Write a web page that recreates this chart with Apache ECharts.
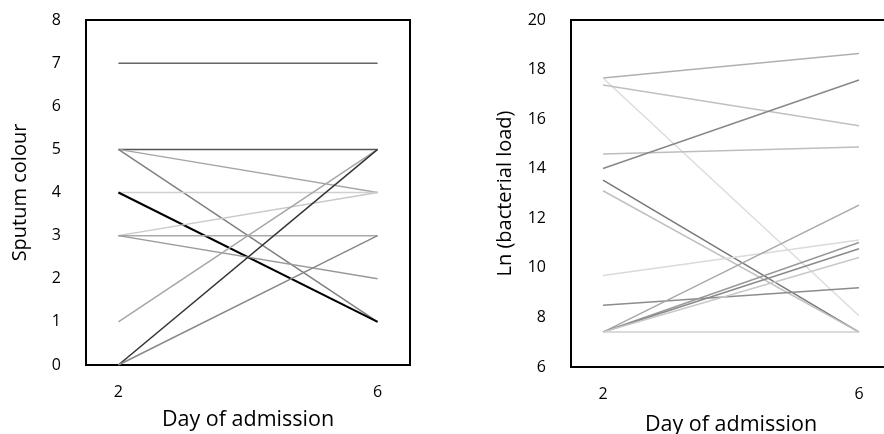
<!doctype html>
<html>
    <head>
        <meta charset="utf-8">
        <title>Sputum colour and bacterial load</title>
        <style>
            html, body { margin: 0; padding: 0; background: #fff; }
            #main { width: 884px; height: 434px; }
        </style>
    </head>
    <body>
        <div id="main"></div>
        <script src="https://cdn.jsdelivr.net/npm/echarts@6/dist/echarts.min.js"></script>
        <script>
            var chart = echarts.init(document.getElementById('main'));

            // admission days shown on both panels
            var days = [2, 6];

            // left panel: sputum colour, one patient per entry
            var sputumDay2 = [7, 5, 5, 5, 4, 4, 3, 3, 3, 1, 0, 0];
            var sputumDay6 = [7, 5, 4, 1, 4, 1, 4, 3, 2, 5, 5, 3];

            // right panel: ln(bacterial load)
            var loadDay2 = [17.66, 17.66, 17.38, 14.59, 14.01, 13.54, 13.11, 9.69, 8.49, 7.41, 7.41, 7.41, 7.41, 7.41];
            var loadDay6 = [18.65, 8.07, 15.73, 14.88, 17.58, 7.41, 7.41, 11.12, 9.2, 12.53, 11.02, 10.77, 10.42, 7.41];

            // grey shades per line
            var sputumColors = ['#666', '#555', '#a6a6a6', '#7f7f7f', '#d0d0d0', '#000', '#c8c8c8', '#aaa', '#999', '#a6a6a6', '#333', '#888'];
            var loadColors = ['#b0b0b0', '#dcdcdc', '#c0c0c0', '#bdbdbd', '#888', '#777', '#c0c0c0', '#dadada', '#8c8c8c', '#a8a8a8', '#999', '#8a8a8a', '#c8c8c8', '#cfcfcf'];

            var FONT = 'Open Sans';

            function makeSeries(d2, d6, colors, axisIdx) {
                return d2.map(function (v, i) {
                    return {
                        type: 'line',
                        xAxisIndex: axisIdx,
                        yAxisIndex: axisIdx,
                        symbol: 'none',
                        silent: true,
                        lineStyle: { color: colors[i], width: colors[i] === '#000' ? 2 : 1.5 },
                        data: [[days[0], v], [days[1], d6[i]]]
                    };
                });
            }

            function xAxis(gridIdx, gap) {
                return {
                    type: 'value',
                    gridIndex: gridIdx,
                    min: 1.5,
                    max: 6.5,
                    interval: 0.5,
                    name: 'Day of admission',
                    nameLocation: 'middle',
                    nameGap: gap,
                    nameTextStyle: { fontFamily: FONT, fontSize: 21.5, color: '#000' },
                    axisLine: { show: false },
                    axisTick: { show: false },
                    splitLine: { show: false },
                    axisLabel: {
                        margin: 19,
                        fontFamily: FONT, fontSize: 16, color: '#000',
                        formatter: function (v) { return days.indexOf(v) >= 0 ? String(v) : ''; }
                    }
                };
            }

            function yAxis(gridIdx, name, min, max, interval) {
                return {
                    type: 'value',
                    gridIndex: gridIdx,
                    min: min,
                    max: max,
                    interval: interval,
                    name: name,
                    nameLocation: 'middle',
                    nameRotate: 90,
                    nameGap: 56,
                    nameTextStyle: { fontFamily: FONT, fontSize: 20, color: '#000' },
                    axisLine: { show: false },
                    axisTick: { show: false },
                    splitLine: { show: false },
                    axisLabel: { margin: 25, fontFamily: FONT, fontSize: 16, color: '#000' }
                };
            }

            chart.setOption({
                animation: false,
                grid: [
                    { left: 86, top: 20, width: 324, height: 345, outerBoundsMode: 'none', show: true, borderColor: '#000', borderWidth: 2, backgroundColor: '#fff' },
                    { left: 571, top: 20, width: 320, height: 347, outerBoundsMode: 'none', show: true, borderColor: '#000', borderWidth: 2, backgroundColor: '#fff' }
                ],
                xAxis: [xAxis(0, 44), xAxis(1, 47)],
                yAxis: [
                    yAxis(0, 'Sputum colour', 0, 8, 1),
                    yAxis(1, 'Ln (bacterial load)', 6, 20, 2)
                ],
                series: makeSeries(sputumDay2, sputumDay6, sputumColors, 0)
                    .concat(makeSeries(loadDay2, loadDay6, loadColors, 1))
            });

            window.addEventListener('resize', function () {
                chart.resize();
            });
        </script>
    </body>
</html>
